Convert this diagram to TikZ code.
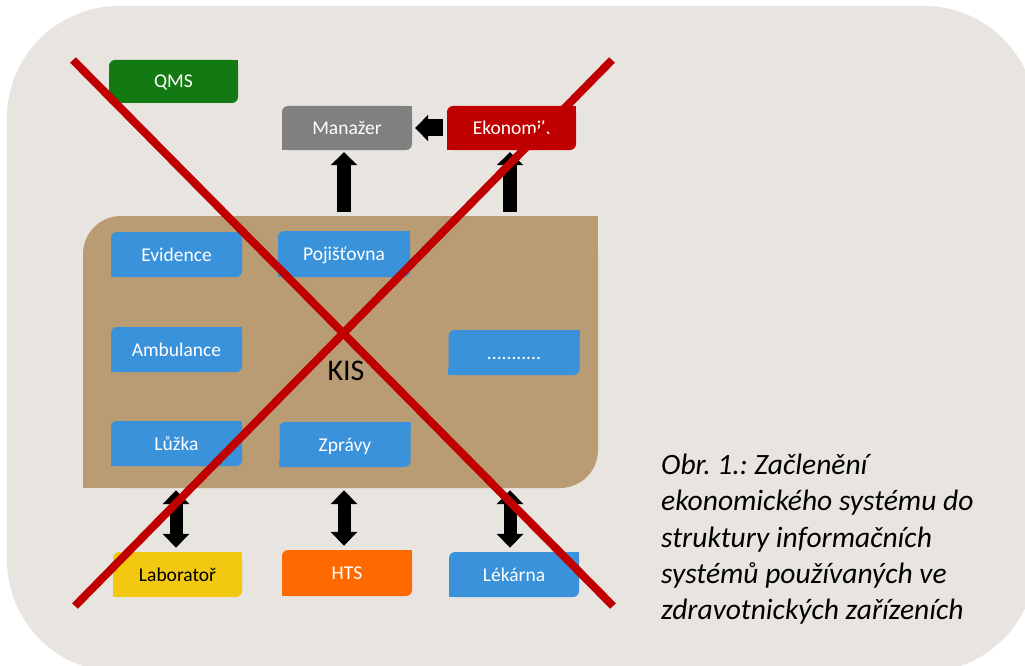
\documentclass[tikz,border=0pt]{standalone}
\usepackage{fontspec}
\setmainfont{Carlito}
\usetikzlibrary{arrows.meta}
\frenchspacing
\definecolor{bgc}{RGB}{232,229,224}
\definecolor{kisbrown}{RGB}{185,155,116}
\definecolor{boxblue}{RGB}{58,146,218}
\definecolor{qmsgreen}{RGB}{19,122,19}
\definecolor{mangray}{RGB}{128,128,128}
\definecolor{ekored}{RGB}{192,0,0}
\definecolor{labyellow}{RGB}{242,200,17}
\definecolor{htsorange}{RGB}{255,106,0}
\definecolor{xred}{RGB}{192,0,0}
\tikzset{
  box/.style={rectangle, rounded corners=6pt, minimum width=130pt, minimum height=45pt,
    inner sep=0pt, text=white, text height=13pt, text depth=0pt,
    font=\fontsize{19.5}{22}\selectfont},
  kisbox/.style={rectangle, rounded corners=38pt, fill=kisbrown, minimum width=515pt,
    minimum height=272pt, inner sep=0pt},
  uparrow/.style={line width=14pt, -{Triangle[width=26pt,length=13pt]}},
  leftarrow/.style={line width=17pt, -{Triangle[width=26pt,length=13pt]}},
  dblarrow/.style={line width=13pt, {Triangle[width=26pt,length=14pt]}-{Triangle[width=26pt,length=14pt]}},
  crossline/.style={xred, line width=8pt},
  caption/.style={anchor=north west, align=left, inner sep=0pt,
    font=\fontsize{29.5}{36.2}\selectfont\itshape}
}
\begin{document}
\begin{tikzpicture}[x=1pt,y=-1pt]
\useasboundingbox (0,0) rectangle (1025,666);
\fill[white] (0,0) rectangle (1025,666);
\fill[bgc, rounded corners=112pt] (7,6) rectangle (1036,672);

% KIS container
\node[kisbox] (kis) at (340.5,352) {};
\fill[kisbrown] (kis.north east) rectangle ++(-40,40);
\fill[kisbrown] (kis.south west) rectangle ++(40,-40);
\node[font=\fontsize{30}{34}\selectfont] (kislabel) at (346,371) {KIS};

% boxes
\node[box, fill=qmsgreen, minimum height=43pt, minimum width=129pt] (qms) at (173.5,81.5) {QMS};
\node[box, fill=mangray, minimum height=44pt] (man) at (347,128) {Manažer};
\node[box, fill=ekored, minimum height=44pt, minimum width=129pt] (eko) at (511.5,128) {Ekonomik};
\node[box, fill=boxblue, minimum width=131pt] (evid) at (176.5,254.5) {Evidence};
\node[box, fill=boxblue, minimum width=132pt, minimum height=46pt] (poj) at (344,254) {Pojišťovna};
\node[box, fill=boxblue, minimum width=131pt] (amb) at (176.5,349.5) {Ambulance};
\node[box, fill=boxblue, minimum width=131pt] (dots) at (514,352.5) {...........};
\node[box, fill=boxblue, minimum width=131pt] (luz) at (176.5,443.5) {Lůžka};
\node[box, fill=boxblue, minimum width=131pt] (zpr) at (345,444.5) {Zprávy};
\node[box, fill=labyellow, text=black, minimum width=129pt] (lab) at (177.5,574.5) {Laboratoř};
\node[box, fill=htsorange, minimum height=46pt] (hts) at (347,573) {HTS};
\node[box, fill=boxblue] (lek) at (514,574.5) {Lékárna};

% sharp corners (top-right and bottom-left)
\foreach \n/\c in {qms/qmsgreen, man/mangray, eko/ekored, evid/boxblue, poj/boxblue,
  amb/boxblue, dots/boxblue, luz/boxblue, zpr/boxblue, lab/labyellow, hts/htsorange, lek/boxblue}{
  \fill[\c] (\n.north east) rectangle ++(-7,7);
  \fill[\c] (\n.south west) rectangle ++(7,-7);
}

% arrows
\draw[uparrow, shorten <=4pt, shorten >=2pt] ([xshift=-3pt]man.south |- kis.north) -- ([xshift=-3pt]man.south);
\draw[uparrow, shorten <=4pt, shorten >=2pt] ([xshift=-1.5pt]eko.south |- kis.north) -- ([xshift=-1.5pt]eko.south);
\draw[leftarrow, shorten <=4pt, shorten >=3pt] (eko.west) -- (man.east);
\draw[dblarrow, shorten <=2pt, shorten >=4pt] ([xshift=-1.5pt]lab.north |- kis.south) -- ([xshift=-1.5pt]lab.north);
\draw[dblarrow, shorten <=2pt, shorten >=4pt] ([xshift=-3pt]hts.north |- kis.south) -- ([xshift=-3pt]hts.north);
\draw[dblarrow, shorten <=2pt, shorten >=4pt] ([xshift=-4pt]lek.north |- kis.south) -- ([xshift=-4pt]lek.north);

% red cross
\coordinate (x1a) at (73,60);
\coordinate (x1b) at (613,606);
\coordinate (x2a) at (75,606);
\coordinate (x2b) at (612,60);
\draw[crossline] (x1a) -- (x1b);
\draw[crossline] (x2a) -- (x2b);

% caption
\node[caption] (cap) at (661,454) {Obr. 1.: Začlenění\\ekonomického systému do\\struktury informačních\\systémů používaných ve\\zdravotnických zařízeních};
\end{tikzpicture}
\end{document}
